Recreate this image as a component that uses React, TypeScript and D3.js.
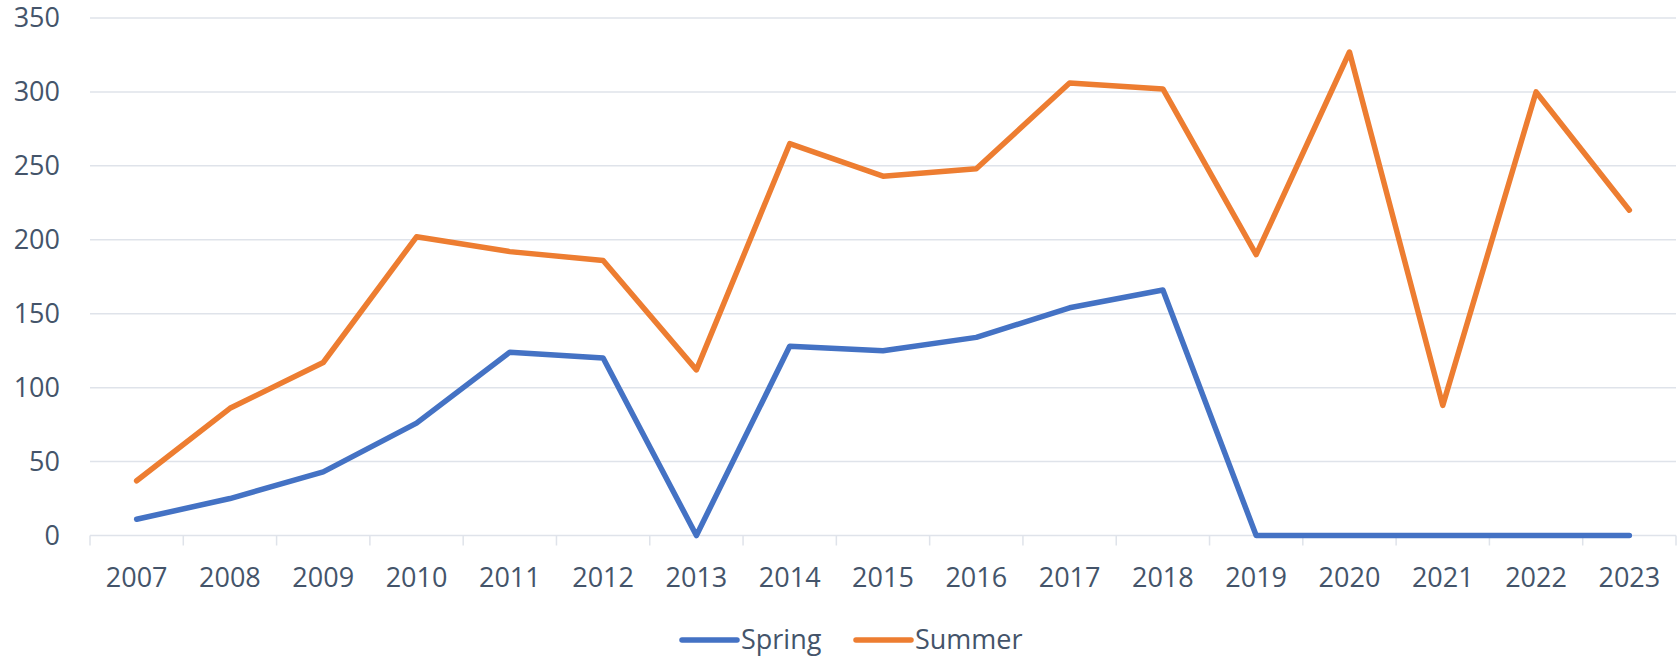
import React, { useEffect, useRef } from "react";
import * as d3 from "d3";

const years = [
  "2007", "2008", "2009", "2010", "2011", "2012", "2013", "2014", "2015",
  "2016", "2017", "2018", "2019", "2020", "2021", "2022", "2023",
];
const spring = [11, 25, 43, 76, 124, 120, 0, 128, 125, 134, 154, 166, 0, 0, 0, 0, 0];
const summer = [37, 86, 117, 202, 192, 186, 112, 265, 243, 248, 306, 302, 190, 327, 88, 300, 220];
const yTicks = [0, 50, 100, 150, 200, 250, 300, 350];

const seriesNames = ["Spring", "Summer"];
const seriesColors = ["#4472c4", "#ed7d31"];

const App: React.FC = () => {
  const ref = useRef<SVGSVGElement | null>(null);

  useEffect(() => {
    const svg = d3.select(ref.current);
    svg.selectAll("*").remove();

    const width = 1678;
    const height = 663;
    const margin = { top: 18, right: 2, bottom: 127.5, left: 90 };
    const font = "'Open Sans', sans-serif";
    const textColor = "#44546a";
    const gridColor = "#dfe3ea";

    const x = d3
      .scaleBand()
      .domain(years)
      .range([margin.left, width - margin.right]);
    const y = d3
      .scaleLinear()
      .domain([0, 350])
      .range([height - margin.bottom, margin.top]);

    // gridlines
    svg
      .append("g")
      .selectAll("line")
      .data(yTicks.filter((d) => d > 0))
      .enter()
      .append("line")
      .attr("x1", margin.left)
      .attr("x2", width - margin.right)
      .attr("y1", (d) => y(d))
      .attr("y2", (d) => y(d))
      .attr("stroke", gridColor)
      .attr("stroke-width", 1.5);

    // y labels
    svg
      .append("g")
      .selectAll("text")
      .data(yTicks)
      .enter()
      .append("text")
      .attr("x", 60)
      .attr("y", (d) => y(d))
      .attr("dy", "0.35em")
      .attr("text-anchor", "end")
      .attr("font-family", font)
      .attr("font-size", 27)
      .attr("fill", textColor)
      .text((d) => d);

    // x axis
    const xAxis = svg
      .append("g")
      .attr("transform", `translate(0,${y(0)})`)
      .call(d3.axisBottom(x).tickSize(0).tickPadding(0));
    xAxis.select(".domain").remove();
    xAxis.selectAll("text").remove();
    xAxis
      .append("line")
      .attr("x1", margin.left)
      .attr("x2", width - margin.right)
      .attr("stroke", gridColor)
      .attr("stroke-width", 1.5);
    const tickPos = years.map((d) => x(d) || 0).concat([width - margin.right]);
    xAxis
      .selectAll(".tk")
      .data(tickPos)
      .enter()
      .append("line")
      .attr("class", "tk")
      .attr("x1", (d) => d)
      .attr("x2", (d) => d)
      .attr("y1", 0)
      .attr("y2", 10)
      .attr("stroke", gridColor)
      .attr("stroke-width", 1.5);
    xAxis
      .selectAll(".lbl")
      .data(years)
      .enter()
      .append("text")
      .attr("class", "lbl")
      .attr("x", (d) => (x(d) || 0) + x.bandwidth() / 2)
      .attr("y", 51)
      .attr("text-anchor", "middle")
      .attr("font-family", font)
      .attr("font-size", 27)
      .attr("fill", textColor)
      .text((d) => d);

    // lines
    const line = d3
      .line<number>()
      .x((_, i) => (x(years[i]) || 0) + x.bandwidth() / 2)
      .y((d) => y(d));

    [spring, summer].forEach((values, i) => {
      svg
        .append("path")
        .datum(values)
        .attr("fill", "none")
        .attr("stroke", seriesColors[i])
        .attr("stroke-width", 5.5)
        .attr("stroke-linejoin", "round")
        .attr("stroke-linecap", "round")
        .attr("d", line);
    });

    // legend
    const legendX = [682, 856];
    const legendY = 640;
    seriesNames.forEach((name, i) => {
      const g = svg.append("g");
      g.append("line")
        .attr("x1", legendX[i])
        .attr("x2", legendX[i] + 55)
        .attr("y1", legendY)
        .attr("y2", legendY)
        .attr("stroke", seriesColors[i])
        .attr("stroke-width", 5.5)
        .attr("stroke-linecap", "round");
      g.append("text")
        .attr("x", legendX[i] + 59)
        .attr("y", legendY)
        .attr("dy", "0.35em")
        .attr("font-family", font)
        .attr("font-size", 27)
        .attr("fill", textColor)
        .text(name);
    });
  }, []);

  return (
    <svg
      ref={ref}
      width={1678}
      height={663}
      style={{ position: "absolute", left: 0, top: 0, background: "#fff" }}
    />
  );
};

export default App;
